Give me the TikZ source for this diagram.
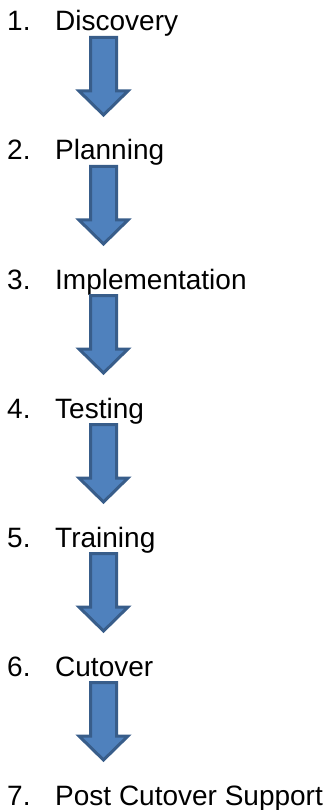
\documentclass[tikz,border=0pt]{standalone}
\usepackage{fontspec}
\setmainfont{Liberation Sans}
\usetikzlibrary{calc}
\definecolor{arrowfill}{HTML}{4F81BD}
\definecolor{arrowline}{HTML}{385D8A}

\begin{document}
\begin{tikzpicture}[x=1pt,y=1pt,
  phase/.style={anchor=base west,inner sep=0pt,font=\fontsize{28}{32}\selectfont},
  blockarrow/.style={draw=arrowline,fill=arrowfill,line width=3pt,line join=miter}]
  \useasboundingbox (0,0) rectangle (328,-810);
  \coordinate (ax) at (103.5,0);
  \foreach \name [count=\i] in {Discovery,Planning,Implementation,Testing,Training,Cutover,Post Cutover Support}
    \node[phase] (phase\i) at (7,{-31-129*(\i-1)}) {\makebox[48pt][l]{\i.}\name};
  \foreach \i [count=\j from 2] in {1,...,6}
    \draw[blockarrow] let \p1=($(phase\i.base -| ax)+(0,-6.5)$), \p2=($(phase\j.base -| ax)+(0,45)$) in
      (\x1-13pt,\y1) -- (\x1+13pt,\y1) -- (\x1+13pt,\y2+24pt) -- (\x1+24.5pt,\y2+24pt)
      -- (\x2,\y2) -- (\x1-24.5pt,\y2+24pt) -- (\x1-13pt,\y2+24pt) -- cycle;
\end{tikzpicture}
\end{document}
